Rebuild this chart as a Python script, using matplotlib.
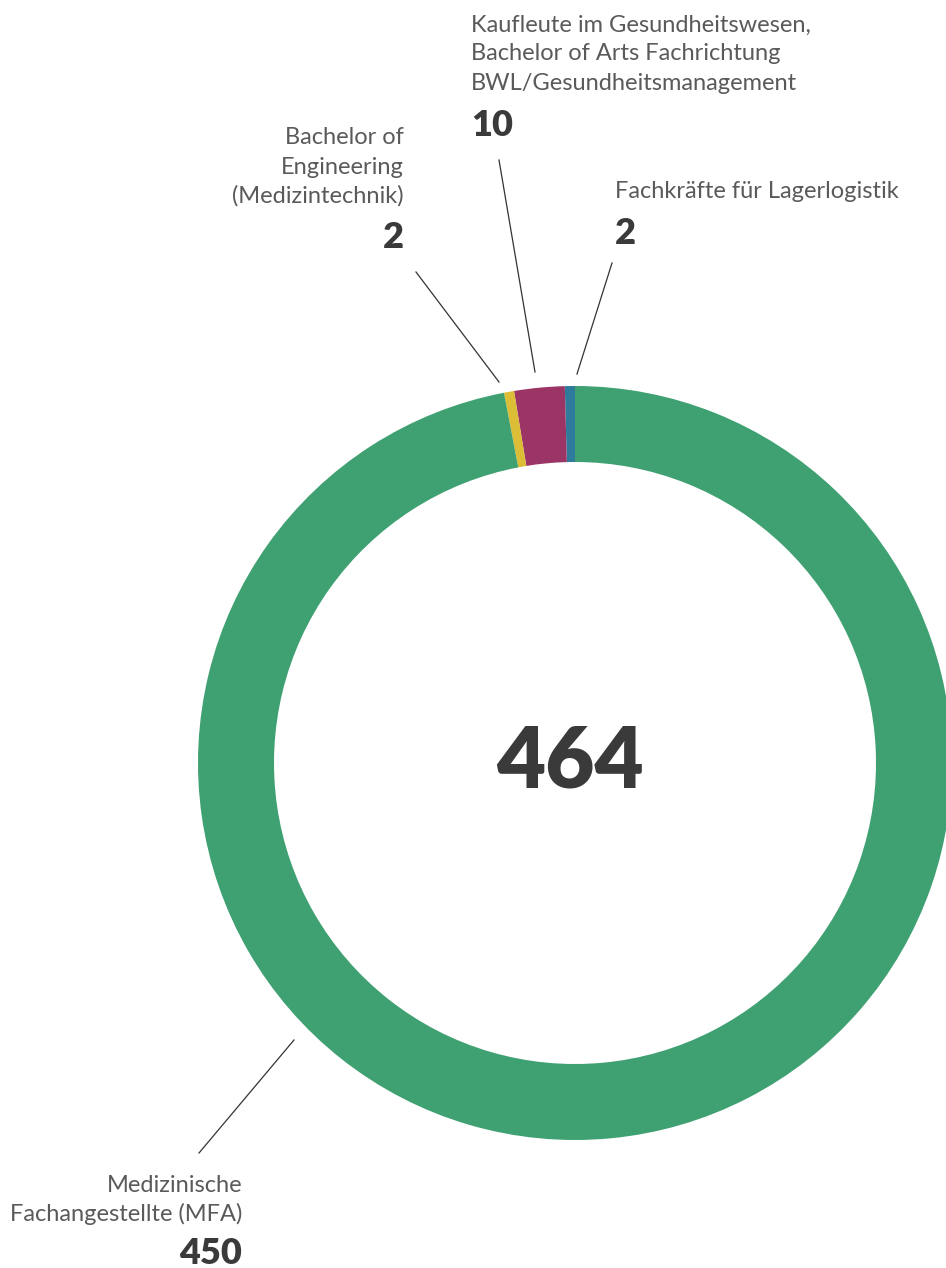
import matplotlib.pyplot as plt

H = 1268
W = 946

# data (counterclockwise from 12 o'clock)
labels = ["Fachkräfte für Lagerlogistik",
          "Kaufleute im Gesundheitswesen,\nBachelor of Arts Fachrichtung\nBWL/Gesundheitsmanagement",
          "Bachelor of\nEngineering\n(Medizintechnik)",
          "Medizinische\nFachangestellte (MFA)"]
values = [2, 10, 2, 450]
colors = ["#2f7b9c", "#9b3565", "#dbbd36", "#3fa172"]
total = "464"

# label placement in pixels (x, y of first line, alignment, gap to number), leader lines
label_pos = [(615, 192, "left", 41), (471, 25, "left", 42),
             (404, 138, "right", 42), (242, 1185, "right", 39)]
leaders = [((577, 374), (612, 263)), ((535, 372), (499, 160)),
           ((499, 382), (416, 272)), ((294, 1040), (199, 1153))]

fig = plt.figure(figsize=(W / 100, H / 100), dpi=100)
ax = fig.add_axes([0, 0, 1, 1])

cx, cy, r = 575, H - 763, 377
ax.pie(values, colors=colors, startangle=90, counterclock=True,
       center=(cx, cy), radius=r, frame=True,
       wedgeprops=dict(width=76, edgecolor="none"))
ax.set_xlim(0, W)
ax.set_ylim(0, H)
ax.axis("off")

ax.text(cx - 5, cy, total, ha="center", va="center", fontsize=61,
        fontfamily="Lato", fontweight="heavy", color="#3a3a3a")

lh = 29
for lab, val, (x, y, al, gap), (p0, p1) in zip(labels, values, label_pos, leaders):
    lines = lab.split("\n")
    for i, ln in enumerate(lines):
        ax.text(x, H - (y + i * lh), ln, ha=al, va="center", fontsize=17,
                fontfamily="Lato", fontweight="normal", color="#5a5a5a")
    ny = y + (len(lines) - 1) * lh + gap
    ax.text(x, H - ny, str(val), ha=al, va="center", fontsize=26,
            fontfamily="Lato", fontweight="heavy", color="#3a3a3a")
    ax.plot([p0[0], p1[0]], [H - p0[1], H - p1[1]], color="#333333", lw=0.9)

fig.savefig("out.png", dpi=100)
